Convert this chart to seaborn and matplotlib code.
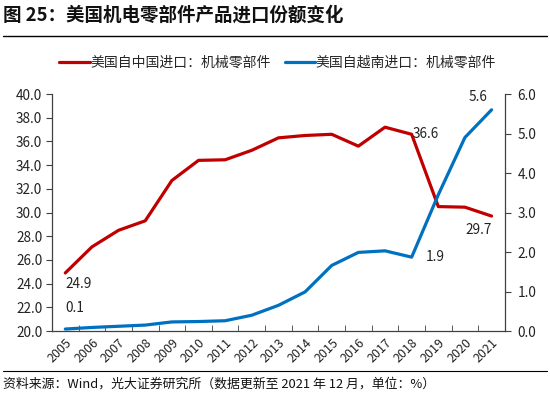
import matplotlib
matplotlib.use("Agg")
import matplotlib.pyplot as plt
import seaborn as sns
import pandas as pd
from matplotlib.lines import Line2D
from matplotlib.ticker import MultipleLocator, FixedLocator

years = list(range(2005, 2022))
china_share = [24.9, 27.1, 28.5, 29.3, 32.7, 34.4, 34.45, 35.25, 36.3, 36.5, 36.6,
               35.6, 37.2, 36.6, 30.5, 30.45, 29.7]
vietnam_share = [0.05, 0.09, 0.12, 0.15, 0.23, 0.24, 0.26, 0.40, 0.65, 0.99, 1.66,
                 1.99, 2.03, 1.87, 3.45, 4.9, 5.6]
series_names = ["美国自中国进口：机械零部件", "美国自越南进口：机械零部件"]
title_text = "图 25：美国机电零部件产品进口份额变化"
source_text = "资料来源：Wind，光大证券研究所（数据更新至 2021 年 12 月，单位：%）"

df = pd.DataFrame({"year": years, "china": china_share, "vietnam": vietnam_share})

sns.set_style("ticks")
plt.rcParams['font.family'] = ['Noto Sans CJK SC', 'DejaVu Sans']

RED = "#C00000"
BLUE = "#0070C0"
SPINE = "#404040"

fig = plt.figure(figsize=(5.5, 3.99), dpi=100)
ax = fig.add_axes([0.0945, 0.1704, 0.8235, 0.594])
ax2 = ax.twinx()

sns.lineplot(data=df, x="year", y="china", ax=ax, color=RED, linewidth=2.3, legend=False)
sns.lineplot(data=df, x="year", y="vietnam", ax=ax2, color=BLUE, linewidth=2.3, legend=False)

ax.set_xlim(2004.5, 2021.5)
ax.set_ylim(20, 40)
ax2.set_ylim(0, 6)
ax.yaxis.set_major_locator(MultipleLocator(2))
ax2.yaxis.set_major_locator(MultipleLocator(1))
ax.yaxis.set_major_formatter(matplotlib.ticker.FormatStrFormatter("%.1f"))
ax2.yaxis.set_major_formatter(matplotlib.ticker.FormatStrFormatter("%.1f"))

ax.set_xticks(years)
ax.set_xticklabels([str(y) for y in years], rotation=45, ha="right", va="top",
                   rotation_mode="anchor", fontsize=9, color="#222222")
ax.xaxis.set_minor_locator(FixedLocator([y + 0.5 for y in years[:-1]]))
ax.tick_params(axis="x", which="major", length=0, pad=4)
ax.tick_params(axis="x", which="minor", length=4, direction="in", color=SPINE)
ax.tick_params(axis="y", length=4, direction="out", color=SPINE, labelsize=9.8,
               labelcolor="#222222", pad=3)
ax2.tick_params(axis="y", length=4, direction="out", color=SPINE, labelsize=9.8,
                labelcolor="#222222", pad=5)

for a in (ax, ax2):
    a.set_xlabel("")
    a.set_ylabel("")
    a.spines["top"].set_visible(False)
    for s in ("left", "right", "bottom"):
        a.spines[s].set_color(SPINE)
        a.spines[s].set_linewidth(0.9)
ax.spines["right"].set_visible(False)
ax2.spines["left"].set_visible(False)
ax2.spines["bottom"].set_visible(False)

# annotations
lab_kw = dict(fontsize=9.8, color="#222222")
ax.annotate(f"{china_share[0]:.1f}", (years[0], china_share[0]), xytext=(0, -3),
            textcoords="offset points", ha="left", va="top", **lab_kw)
ax.annotate(f"{china_share[13]:.1f}", (years[13], china_share[13]), xytext=(1, 0),
            textcoords="offset points", ha="left", va="center", **lab_kw)
ax.annotate(f"{china_share[16]:.1f}", (years[16], china_share[16]), xytext=(0, -5),
            textcoords="offset points", ha="right", va="top", **lab_kw)
ax2.annotate(f"{vietnam_share[0]:.1f}", (years[0], vietnam_share[0]), xytext=(0, 10),
             textcoords="offset points", ha="left", va="bottom", **lab_kw)
ax2.annotate(f"{vietnam_share[13]:.1f}", (years[13], vietnam_share[13]), xytext=(10, 0),
             textcoords="offset points", ha="left", va="center", **lab_kw)
ax2.annotate(f"{vietnam_share[16]:.1f}", (years[16], vietnam_share[16]), xytext=(-3, 4),
             textcoords="offset points", ha="right", va="bottom", **lab_kw)

# legend
handles = [Line2D([0], [0], color=RED, lw=2.3), Line2D([0], [0], color=BLUE, lw=2.3)]
fig.legend(handles, series_names, loc="center", bbox_to_anchor=(0.505, 0.842), ncol=2,
           frameon=False, fontsize=10, handlelength=2.2, handletextpad=0.05,
           columnspacing=1.0)

# title and rules
fig.text(0.006, 0.962, title_text, fontsize=13.3, fontweight="bold", ha="left", va="center",
         color="#111111")
fig.add_artist(Line2D([0.006, 0.994], [0.911, 0.911], color="black", lw=1.0))
fig.add_artist(Line2D([0.006, 0.994], [0.07, 0.07], color="black", lw=0.8))
fig.text(0.006, 0.037, source_text, fontsize=9.3, ha="left", va="center", color="#111111")

fig.savefig("out.png", dpi=100)
